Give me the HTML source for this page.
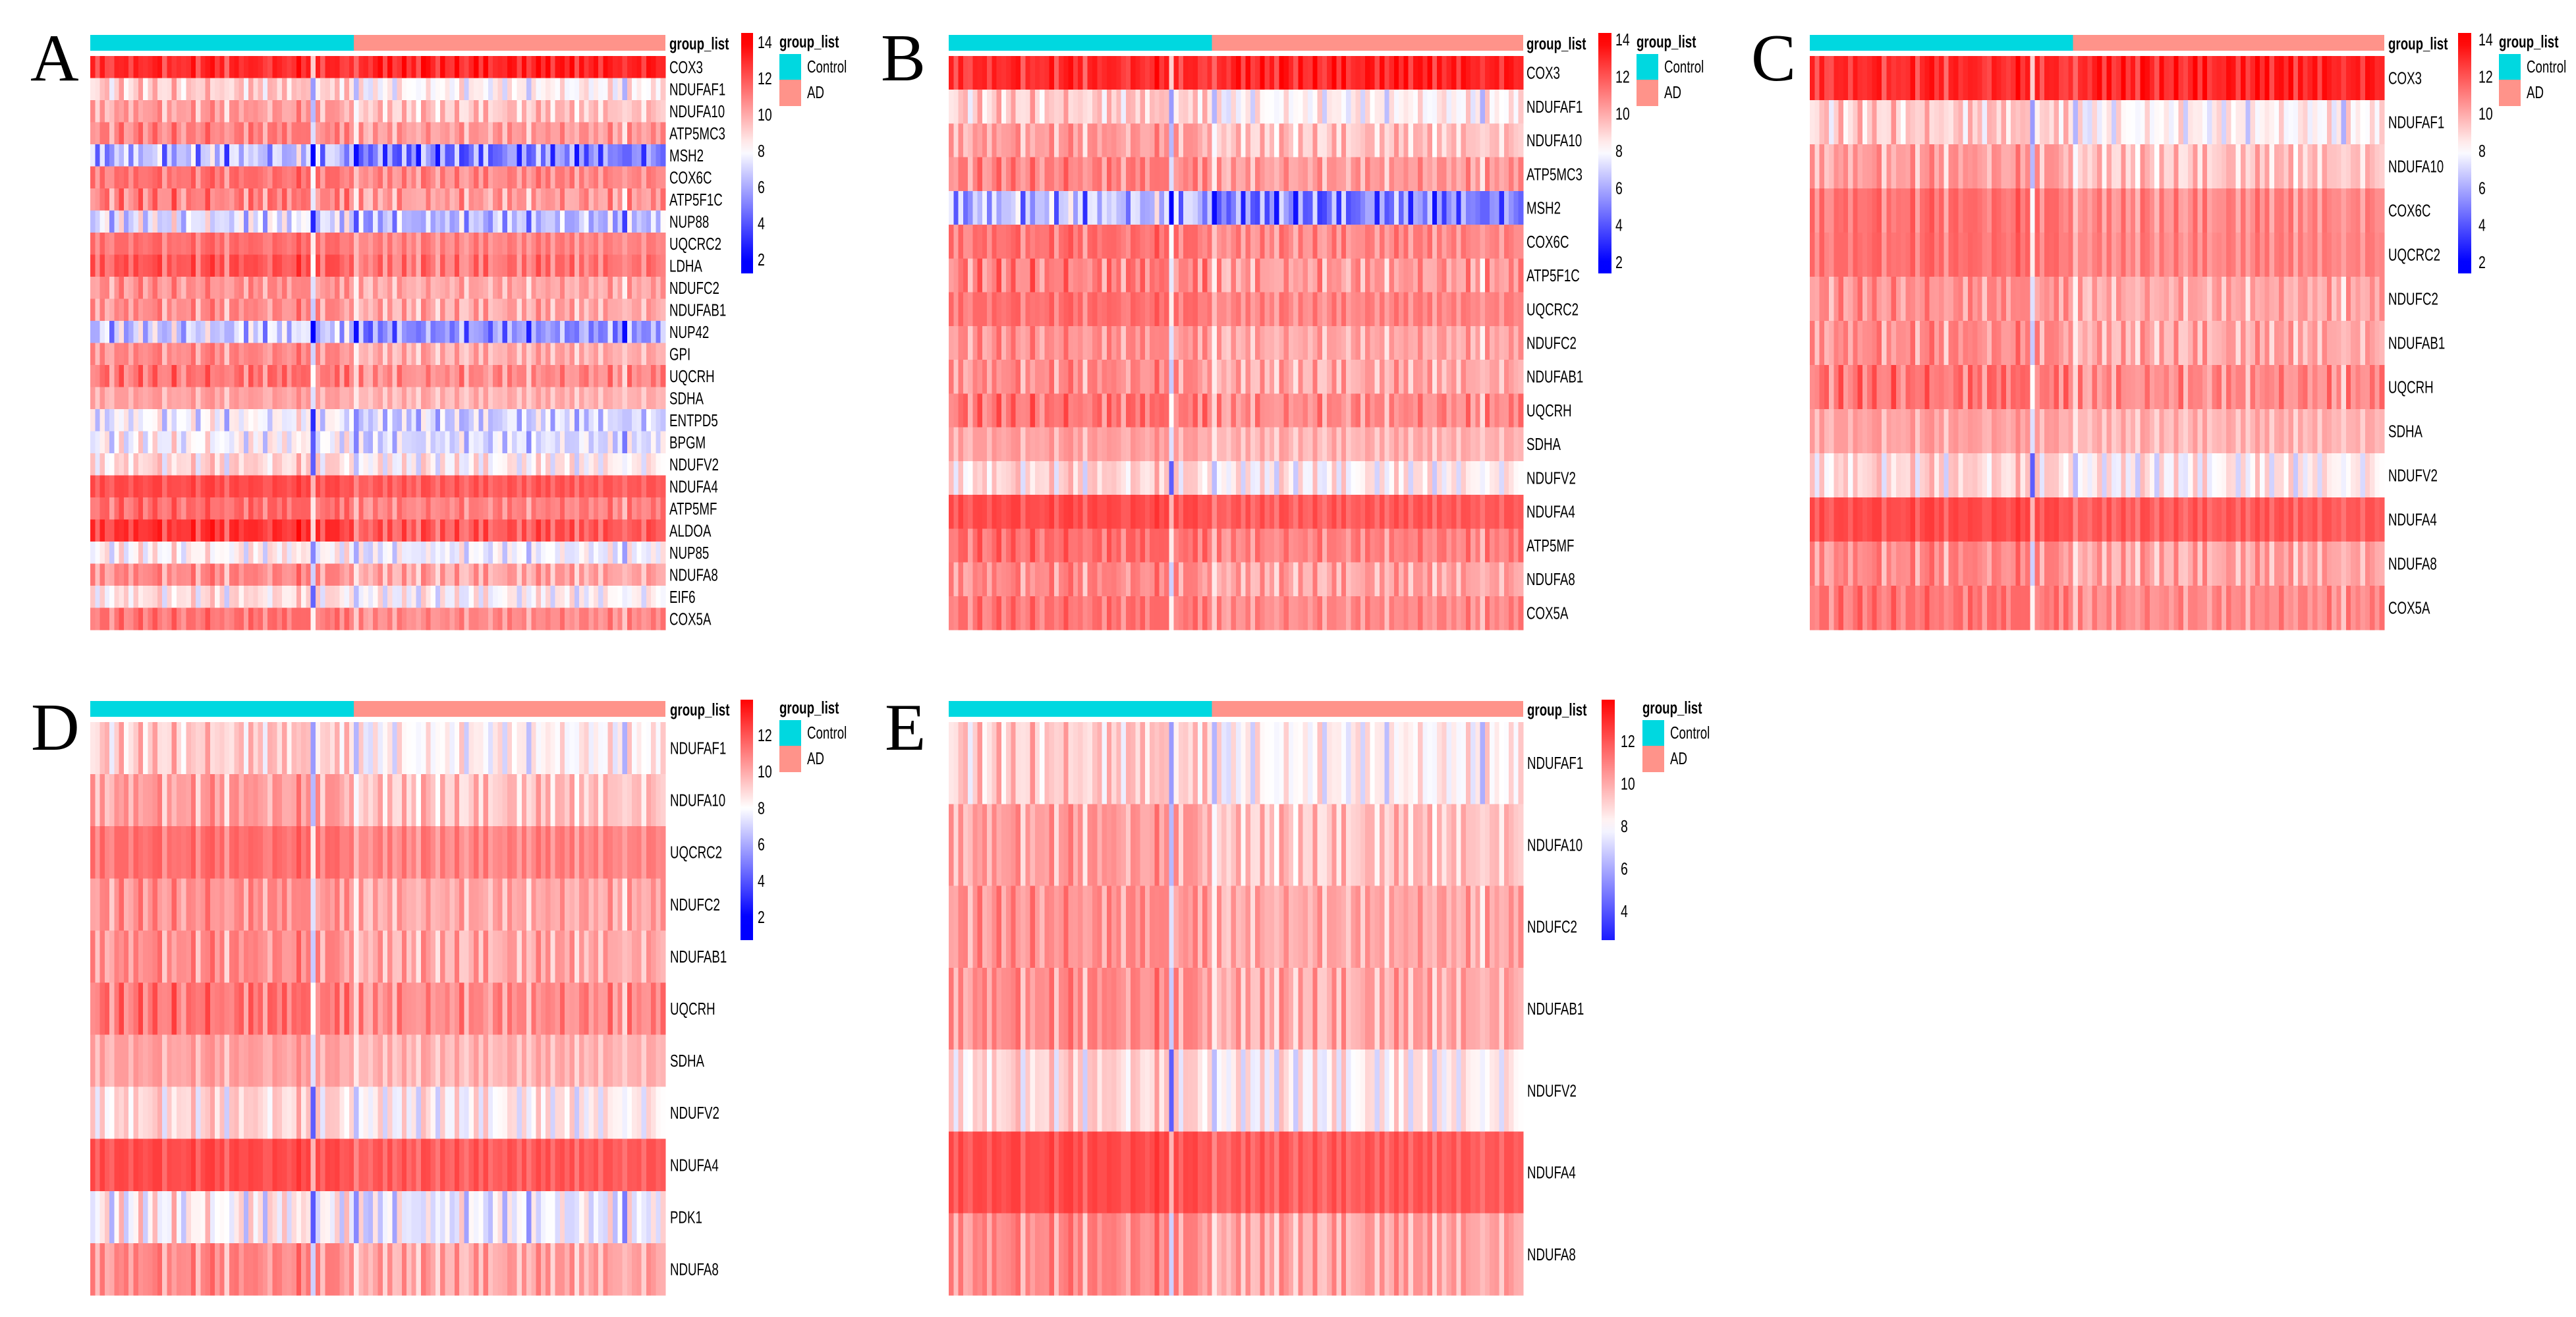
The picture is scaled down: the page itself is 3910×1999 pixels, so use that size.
<!DOCTYPE html>
<html><head><meta charset="utf-8">
<style>
html,body{margin:0;padding:0;background:#fff;}
svg{display:block;}
text{font-family:"Liberation Sans",Arial,sans-serif;fill:#000;}
.letter{font-family:"Liberation Serif","Times New Roman",serif;font-size:102px;}
</style></head>
<body>
<svg id="fig" width="3910" height="1999" viewBox="0 0 3910 1999" xmlns="http://www.w3.org/2000/svg" shape-rendering="crispEdges"></svg>
<script>
// ---- data ----
const sampleGroups = ["Control","AD"];
const controlCount = 55;
const colOffset = [
0.3,-0.6,0.8,0.2,-0.9,0.5,1.0,0.1,-0.4,0.7,
0.9,-0.2,0.4,1.1,0.6,-0.7,0.3,0.8,0.2,-0.3,
0.5,0.9,-0.5,0.4,1.2,0.7,0.0,0.6,-0.8,0.3,
0.8,0.5,-0.2,1.0,0.4,0.6,-0.6,0.2,0.9,0.3,
0.7,-0.3,0.5,1.1,0.4,0.8,-3.6,0.2,-0.4,0.6,
0.3,0.9,-0.5,0.4,0.1,
-1.8,0.4,-0.3,-0.8,0.5,0.2,-0.6,0.7,-1.0,0.3,
0.6,-0.4,0.1,-0.9,0.5,0.8,-0.2,-0.7,0.4,0.0,
-0.5,0.6,0.3,-1.1,0.2,0.7,-0.3,0.5,-0.8,0.1,
0.4,-0.6,0.8,0.2,-0.4,0.6,-1.2,0.3,0.5,-0.1,
0.7,-0.5,0.2,0.9,-0.3,0.4,-0.9,0.6,0.1,-0.2,
0.5,-0.7,0.3,0.8,-0.4,0.2,-1.3,0.6,0.0,0.4,
-0.6,0.3,0.7,-0.2,0.5];
const colOffset2 = [
0.8,-0.5,0.2,-1.0,0.6,0.3,-0.7,1.1,-0.2,0.4,
-0.9,0.7,0.1,-0.4,0.9,-0.6,0.5,-1.2,0.3,0.8,
-0.3,0.6,-0.8,0.2,-0.5,1.0,-0.1,0.4,-0.9,0.7,
0.3,-0.6,1.2,-0.4,0.5,-0.2,0.9,-1.0,0.1,0.6,
-0.7,0.4,-0.3,0.8,-0.5,0.2,-0.4,1.0,-0.8,0.3,
0.6,-0.2,0.7,-1.1,0.5,
0.2,-0.9,0.6,0.3,-0.4,1.1,-0.7,0.2,0.5,-1.0,
0.8,-0.3,0.4,-0.6,1.0,-0.2,0.3,-0.8,0.7,-0.5,
0.1,0.9,-1.2,0.4,-0.3,0.6,-0.7,1.0,0.2,-0.4,
-0.6,0.8,-0.1,0.5,-0.9,0.3,0.7,-0.5,1.1,-0.2,
0.4,-0.8,0.6,-0.3,0.2,0.9,-0.6,0.1,-1.0,0.5,
0.3,-0.4,0.8,-0.7,0.6,-0.2,1.0,-0.9,0.4,0.1,
-0.5,0.7,-0.3,0.2,-0.8];
const geneNames = ["COX3","NDUFAF1","NDUFA10","ATP5MC3","MSH2","COX6C","ATP5F1C","NUP88","UQCRC2","LDHA","NDUFC2","NDUFAB1","NUP42","GPI","UQCRH","SDHA","ENTPD5","BPGM","NDUFV2","NDUFA4","ATP5MF","ALDOA","NUP85","NDUFA8","EIF6","COX5A","PDK1"];
const geneMean   = [12.6,8.9,9.9,10.6,5.8,11.0,10.7,7.0,11.1,11.6,10.3,10.3,6.4,10.4,11.0,9.9,7.4,7.7,8.5,12.0,11.2,12.4,8.0,10.4,8.3,11.0,7.9];
const geneSpread = [0.9,1.0,0.9,1.0,1.6,0.8,1.0,1.3,0.7,0.9,0.9,0.9,1.6,0.9,0.9,0.7,1.1,1.1,1.1,0.6,0.8,0.9,0.9,0.9,1.0,0.8,1.2];
const geneMix    = [0.6,-0.8,0.9,-0.5,1.0,0.7,-0.9,-1.0,0.5,0.8,-0.6,0.9,-0.7,0.6,-0.8,0.5,1.0,-0.9,0.8,0.4,-0.6,0.7,-1.0,0.8,0.9,-0.5,-1.0];
const adShift    = [0.5,-0.7,-0.6,-0.3,-1.0,-0.3,-0.4,-0.6,-0.3,-0.5,-0.3,-0.4,-1.0,-0.6,-0.3,-0.2,-0.5,-0.5,-0.3,-0.2,-0.3,-0.6,-0.3,-0.4,-0.3,-0.3,-0.3];
const panelAGenes = ["COX3","NDUFAF1","NDUFA10","ATP5MC3","MSH2","COX6C","ATP5F1C","NUP88","UQCRC2","LDHA","NDUFC2","NDUFAB1","NUP42","GPI","UQCRH","SDHA","ENTPD5","BPGM","NDUFV2","NDUFA4","ATP5MF","ALDOA","NUP85","NDUFA8","EIF6","COX5A"];
const panelBGenes = ["COX3","NDUFAF1","NDUFA10","ATP5MC3","MSH2","COX6C","ATP5F1C","UQCRC2","NDUFC2","NDUFAB1","UQCRH","SDHA","NDUFV2","NDUFA4","ATP5MF","NDUFA8","COX5A"];
const panelCGenes = ["COX3","NDUFAF1","NDUFA10","COX6C","UQCRC2","NDUFC2","NDUFAB1","UQCRH","SDHA","NDUFV2","NDUFA4","NDUFA8","COX5A"];
const panelDGenes = ["NDUFAF1","NDUFA10","UQCRC2","NDUFC2","NDUFAB1","UQCRH","SDHA","NDUFV2","NDUFA4","PDK1","NDUFA8"];
const panelEGenes = ["NDUFAF1","NDUFA10","NDUFC2","NDUFAB1","NDUFV2","NDUFA4","NDUFA8"];
const ticksABC = [14,12,10,8,6,4,2];
const ticksD = [12,10,8,6,4,2];
const ticksE = [12,10,8,6,4];

// ---- layout ----
const NS="http://www.w3.org/2000/svg";
const svg=document.getElementById('fig');
function mk(tag,attrs,parent){const e=document.createElementNS(NS,tag);for(const k in attrs)e.setAttribute(k,attrs[k]);(parent||svg).appendChild(e);return e;}
function col(v){
  if(v<8){let t=Math.min(1,(8-v)/6);const c=Math.round(255*(1-t));return `rgb(${c},${c},255)`;}
  let t=Math.min(1,(v-8)/6);const c=Math.round(255*(1-t));return `rgb(255,${c},${c})`;
}
function label(g,x,y,str,size,bold,sx){
  const t=mk('text',{transform:`translate(${x},${y}) scale(${sx},1)`,'font-size':size,'font-weight':bold?'bold':'normal'},g);
  t.textContent=str;return t;
}
const panels=[
 {id:'a',letter:'A',lx:46,ly:122,genes:panelAGenes,hx0:137,hx1:1010,ay0:53,ay1:77,hy0:85,hy1:956,labx:1016,cbx:1125,cbw:18,cby0:50,cby1:415,ticks:ticksABC,tv0:14,ty0:64,tv1:2,ty1:394,tkx:1150,lgx:1183,lgy:72},
 {id:'b',letter:'B',lx:1337,ly:122,genes:panelBGenes,hx0:1440,hx1:2312,ay0:53,ay1:77,hy0:85,hy1:956,labx:2317,cbx:2426,cbw:20,cby0:50,cby1:415,ticks:ticksABC,tv0:14,ty0:60,tv1:2,ty1:398,tkx:2452,lgx:2484,lgy:72},
 {id:'c',letter:'C',lx:2658,ly:122,genes:panelCGenes,hx0:2747,hx1:3619,ay0:53,ay1:77,hy0:85,hy1:956,labx:3625,cbx:3731,cbw:20,cby0:50,cby1:415,ticks:ticksABC,tv0:14,ty0:60,tv1:2,ty1:398,tkx:3762,lgx:3793,lgy:72},
 {id:'d',letter:'D',lx:47,ly:1138,genes:panelDGenes,hx0:137,hx1:1010,ay0:1064,ay1:1088,hy0:1096,hy1:1966,labx:1017,cbx:1124,cbw:19,cby0:1062,cby1:1427,ticks:ticksD,tv0:12,ty0:1116,tv1:2,ty1:1392,tkx:1150,lgx:1183,lgy:1083},
 {id:'e',letter:'E',lx:1343,ly:1138,genes:panelEGenes,hx0:1440,hx1:2312,ay0:1064,ay1:1088,hy0:1096,hy1:1966,labx:2318,cbx:2431,cbw:20,cby0:1062,cby1:1427,ticks:ticksE,tv0:12,ty0:1125,tv1:4,ty1:1383,tkx:2460,lgx:2493,lgy:1083}
];
const N=colOffset.length;
panels.forEach(p=>{
  const g=mk('g',{});
  
  
  const L=mk('text',{x:p.lx,y:p.ly,class:'letter'},g);L.textContent=p.letter;
  
  
  const cw=(p.hx1-p.hx0)/N;
  const xs=i=>p.hx0+i*cw;
  const ann=mk('g',{},g);
  
  
  mk('rect',{x:p.hx0,y:p.ay0,width:xs(controlCount)-p.hx0,height:p.ay1-p.ay0,fill:'#00d8e0'},ann);
  mk('rect',{x:xs(controlCount),y:p.ay0,width:p.hx1-xs(controlCount),height:p.ay1-p.ay0,fill:'#ff938a'},ann);
  const gl=label(g,p.labx,p.ay1-2,'group_list',26,true,0.72);
  
  
  const rh=(p.hy1-p.hy0)/p.genes.length;
  const cells=mk('g',{},g);
  
  
  p.genes.forEach((gn,r)=>{
    const gi=geneNames.indexOf(gn);
    const y=p.hy0+r*rh;
    for(let c=0;c<N;c++){
      const v=geneMean[gi]+geneSpread[gi]*(colOffset[c]+geneMix[gi]*colOffset2[c])+(c>=controlCount?adShift[gi]:0);
      mk('rect',{x:xs(c).toFixed(2),y:y.toFixed(2),width:(cw+0.6).toFixed(2),height:(rh+0.6).toFixed(2),fill:col(v)},cells);
    }
    const t=label(g,p.labx,y+rh/2+9,gn,26,false,0.72);
    
    
  });
  const k=(p.ty1-p.ty0)/(p.tv1-p.tv0);
  const vAt=y=>p.tv0+(y-p.ty0)/k;
  const yAt=v=>p.ty0+(v-p.tv0)*k;
  const gid='grad-'+p.id;
  const defs=mk('defs',{},g);
  const lg=mk('linearGradient',{id:gid,x1:0,y1:0,x2:0,y2:1},defs);
  for(let s=0;s<=20;s++){
    const y=p.cby0+(p.cby1-p.cby0)*s/20;
    mk('stop',{offset:(s/20),'stop-color':col(vAt(y))},lg);
  }
  const cb=mk('rect',{x:p.cbx,y:p.cby0,width:p.cbw,height:p.cby1-p.cby0,fill:`url(#${gid})`},g);
  
  
  p.ticks.forEach(tv=>{
    const t=label(g,p.tkx,yAt(tv)+9,String(tv),26,false,0.75);
    
    
  });
  const lt=label(g,p.lgx,p.lgy,'group_list',26,true,0.72);
  
  
  const by=p.lgy+10;
  const c1=mk('rect',{x:p.lgx,y:by,width:33,height:39,fill:'#00d8e0'},g);
  
  
  const c2=mk('rect',{x:p.lgx,y:by+39,width:33,height:40,fill:'#ff938a'},g);
  
  
  const t1=label(g,p.lgx+42,by+28,sampleGroups[0],26,false,0.72);
  
  
  const t2=label(g,p.lgx+42,by+67,sampleGroups[1],26,false,0.72);
  
  
});
</script>
</body></html>
